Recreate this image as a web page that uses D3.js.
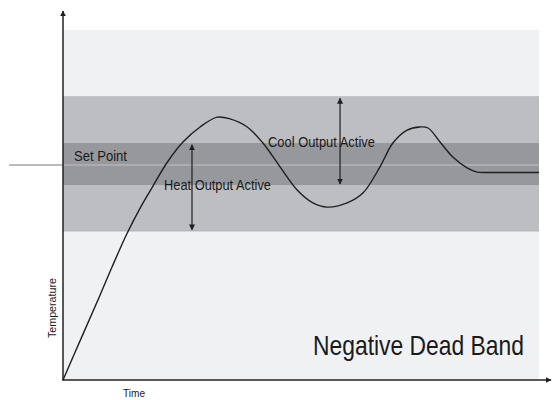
<!DOCTYPE html>
<html>
<head>
<meta charset="utf-8">
<script src="https://cdn.jsdelivr.net/npm/d3@7"></script>
<style>
  html, body { margin: 0; padding: 0; background: #ffffff; }
  svg text { font-family: "Liberation Sans", Arial, sans-serif; fill: #1a1a1a; }
</style>
</head>
<body>
<svg id="chart" width="552" height="400"></svg>
<script>
// Process temperature over time (percent of full scale)
const timeValues = [0, 4.2, 7.8, 10.3, 13.4, 16.2, 18.9, 21.8, 25.2, 28.8, 32.4, 35.1, 38.7, 42.0, 45.6, 49.2, 52.5, 55.5, 59.7, 63.0, 66.6, 69.3, 72.3, 75.0, 76.7, 79.2, 81.9, 84.9, 87.0, 89.7, 100];
const tempValues = [0, 13.1, 24.3, 32.3, 41.7, 49.1, 55.4, 62.0, 68.0, 72.3, 75.1, 74.6, 72.3, 67.7, 60.9, 54.3, 50.6, 49.4, 50.6, 53.4, 60.9, 67.7, 71.4, 72.3, 72.0, 68.0, 63.7, 60.6, 59.4, 59.3, 59.3];

// Set point and output bands (temperature units)
const setPoint = 61.4;
const coolBand = [61.4, 81.1];   // cool output active from set point upward
const heatBand = [42.6, 67.7];   // heat output active
const deadBand = [55.7, 67.7];   // overlap region (negative dead band)

const axisLabels = ["Time", "Temperature"];
const bandLabels = ["Set Point", "Heat Output Active", "Cool Output Active"];
const title = "Negative Dead Band";

const svg = d3.select("#chart");
const x = d3.scaleLinear().domain([0, 100]).range([63, 539]);
const y = d3.scaleLinear().domain([0, 100]).range([380, 30]);

// plot panel
svg.append("rect")
  .attr("x", x(0)).attr("y", y(100))
  .attr("width", x(100) - x(0)).attr("height", y(0) - y(100))
  .attr("fill", "#f0f1f3");

// outer band: union of heat and cool regions
const outerLo = Math.min(heatBand[0], coolBand[0]);
const outerHi = Math.max(heatBand[1], coolBand[1]);
svg.append("rect")
  .attr("x", x(0)).attr("y", y(outerHi))
  .attr("width", x(100) - x(0)).attr("height", y(outerLo) - y(outerHi))
  .attr("fill", "#bdbec2");
svg.append("line")
  .attr("x1", x(0)).attr("x2", x(100))
  .attr("y1", y(outerLo)).attr("y2", y(outerLo))
  .attr("stroke", "#adaeb2").attr("stroke-width", 1);

// inner overlap band
svg.append("rect")
  .attr("x", x(0)).attr("y", y(deadBand[1]))
  .attr("width", x(100) - x(0)).attr("height", y(deadBand[0]) - y(deadBand[1]))
  .attr("fill", "#97989c");

// set point line
svg.append("line")
  .attr("x1", 9).attr("x2", x(0))
  .attr("y1", y(setPoint)).attr("y2", y(setPoint))
  .attr("stroke", "#a4a5a8").attr("stroke-width", 1.5);
svg.append("line")
  .attr("x1", x(0)).attr("x2", x(100))
  .attr("y1", y(setPoint)).attr("y2", y(setPoint))
  .attr("stroke", "#b3b4b8").attr("stroke-width", 1.5);

// temperature curve
const pts = timeValues.map((t, i) => [t, tempValues[i]]);
svg.append("path")
  .datum(pts)
  .attr("fill", "none")
  .attr("stroke", "#1f1f1f")
  .attr("stroke-width", 1.4)
  .attr("d", d3.line().x(d => x(d[0])).y(d => y(d[1])).curve(d3.curveCatmullRom.alpha(0.5)));

// arrowheads
const defs = svg.append("defs");
defs.append("marker")
  .attr("id", "head")
  .attr("viewBox", "0 0 10 10")
  .attr("refX", 9).attr("refY", 5)
  .attr("markerWidth", 6).attr("markerHeight", 8)
  .attr("markerUnits", "userSpaceOnUse")
  .attr("orient", "auto-start-reverse")
  .append("path").attr("d", "M0,0 L10,5 L0,10 Z").attr("fill", "#1f1f1f");

// double-headed range arrows
function rangeArrow(tx, lo, hi) {
  svg.append("line")
    .attr("x1", x(tx)).attr("x2", x(tx))
    .attr("y1", y(hi)).attr("y2", y(lo))
    .attr("stroke", "#1f1f1f").attr("stroke-width", 1.2)
    .attr("marker-start", "url(#head)")
    .attr("marker-end", "url(#head)");
}
rangeArrow(27.1, heatBand[0] + 0.3, heatBand[1] - 0.5);
rangeArrow(58.2, coolBand[0] - 5.4, coolBand[1] - 0.6);

// axes
const axisColor = "#222222";
svg.append("line")
  .attr("x1", x(0)).attr("x2", x(0))
  .attr("y1", y(0) + 0.5).attr("y2", 11)
  .attr("stroke", axisColor).attr("stroke-width", 1.5)
  .attr("marker-end", "url(#head)");
svg.append("line")
  .attr("x1", x(0) - 0.5).attr("x2", 551)
  .attr("y1", y(0)).attr("y2", y(0))
  .attr("stroke", axisColor).attr("stroke-width", 1.5)
  .attr("marker-end", "url(#head)");

// condensed labels: squeeze horizontally to a target width
function label(px, py, size, width, txt, angle) {
  const g = svg.append("g")
    .attr("transform", `translate(${px},${py}) rotate(${angle || 0})`);
  const t = g.append("text").attr("font-size", size).text(txt);
  const natural = t.node().getComputedTextLength();
  t.attr("transform", `scale(${width / natural},1)`);
  return t;
}
label(74, 161, 14.5, 53, bandLabels[0]);
label(164, 190, 14.5, 107, bandLabels[1]);
label(268, 147, 14.5, 107, bandLabels[2]);

label(123, 397, 11, 22, axisLabels[0]);
label(56, 338, 11, 60, axisLabels[1], -90);

label(313, 355, 28, 211, title);
</script>
</body>
</html>
